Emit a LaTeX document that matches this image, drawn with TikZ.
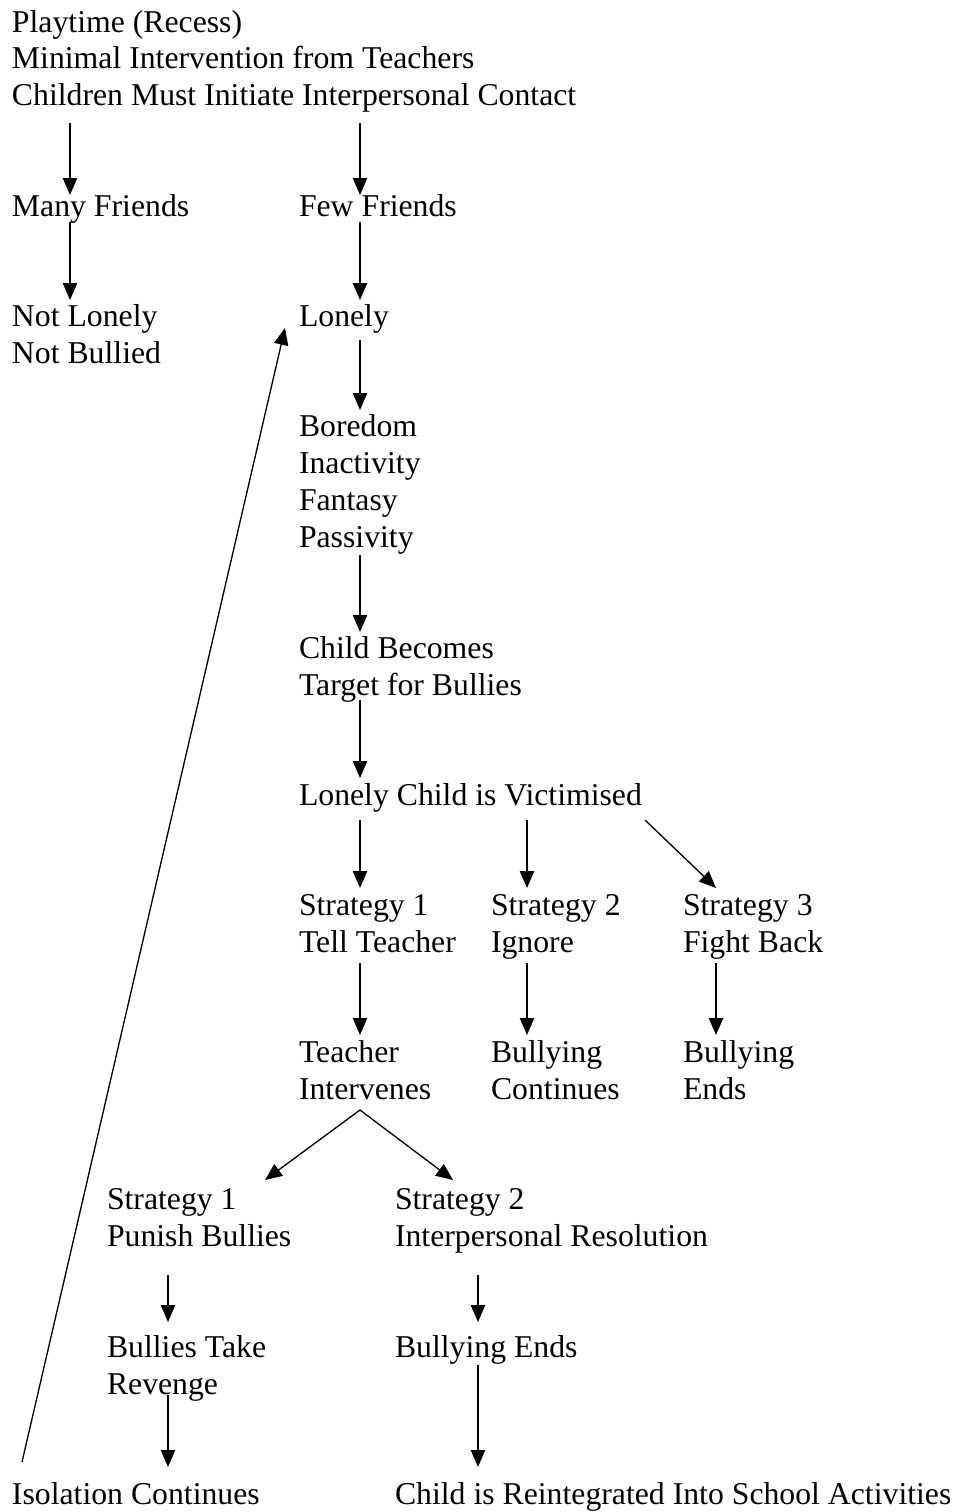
\documentclass[tikz,border=0pt]{standalone}
\usepackage{fontspec}
\setmainfont{Liberation Serif}
\usetikzlibrary{arrows.meta,calc}
\tikzset{
  lbl/.style={anchor=base west, inner sep=0pt, outer sep=0pt, align=left, font=\fontsize{12}{13.87}\selectfont},
  arr/.style={line width=0.5pt, -{Triangle[length=6.4pt,width=5.4pt]}}
}
\begin{document}
\begin{tikzpicture}[x=0.378pt,y=-0.378pt]
\useasboundingbox (0,0) rectangle (958,1512);
% positions are the baselines of the last lines
\node[lbl] (play) at (12,105.4) {Playtime (Recess)\\Minimal Intervention from Teachers\\Children Must Initiate Interpersonal Contact};
\node[lbl] (many) at (12,216) {Many Friends};
\node[lbl] (few) at (299,216) {Few Friends};
\node[lbl] (notlonely) at (12,363) {Not Lonely\\Not Bullied};
\node[lbl] (lonely) at (299,326) {Lonely};
\node[lbl] (boredom) at (299,547) {Boredom\\Inactivity\\Fantasy\\Passivity};
\node[lbl] (child) at (299,695) {Child Becomes\\Target for Bullies};
\node[lbl] (victim) at (299,805) {Lonely Child is Victimised};
\node[lbl] (s1) at (299,952) {Strategy 1\\Tell Teacher};
\node[lbl] (s2) at (491,952) {Strategy 2\\Ignore};
\node[lbl] (s3) at (683,952) {Strategy 3\\Fight Back};
\node[lbl] (teacher) at (299,1099) {Teacher\\Intervenes};
\node[lbl] (bcont) at (491,1099) {Bullying\\Continues};
\node[lbl] (bends) at (683,1099) {Bullying\\Ends};
\node[lbl] (ps1) at (107,1246) {Strategy 1\\Punish Bullies};
\node[lbl] (ps2) at (395,1246) {Strategy 2\\Interpersonal Resolution};
\node[lbl] (revenge) at (107,1394) {Bullies Take\\Revenge};
\node[lbl] (bends2) at (395,1357) {Bullying Ends};
\node[lbl] (iso) at (12,1504) {Isolation Continues};
\node[lbl] (reint) at (395,1504) {Child is Reintegrated Into School Activities};

\draw[arr] ($(play.base west)+(58,17.6)$) -- ($(many.base west)+(58,-21)$);
\draw[arr] ($(play.base west)+(348,17.6)$) -- ($(few.base west)+(61,-21)$);
\draw[arr] ($(many.base west)+(58,6)$) -- ($(notlonely.base west)+(58,-63)$);
\draw[arr] ($(few.base west)+(61,6)$) -- ($(lonely.base west)+(61,-26)$);
\draw[arr] ($(lonely.base west)+(61,14)$) -- ($(boredom.base west)+(61,-137)$);
\draw[arr] ($(boredom.base west)+(61,8)$) -- ($(child.base west)+(61,-63)$);
\draw[arr] ($(child.base west)+(61,5)$) -- ($(victim.base west)+(61,-27)$);
\draw[arr] ($(victim.base west)+(61,15)$) -- ($(s1.base west)+(61,-64)$);
\draw[arr] ($(victim.base west)+(228,15)$) -- ($(s2.base west)+(36,-64)$);
\draw[arr] ($(victim.base west)+(346,15)$) -- ($(s3.base west)+(33,-64)$);
\draw[arr] ($(s1.base west)+(61,11)$) -- ($(teacher.base west)+(61,-64)$);
\draw[arr] ($(s2.base west)+(36,11)$) -- ($(bcont.base west)+(36,-64)$);
\draw[arr] ($(s3.base west)+(33,11)$) -- ($(bends.base west)+(33,-64)$);
\draw[arr] ($(teacher.base west)+(61,11)$) -- ($(ps1.base west)+(158,-66)$);
\draw[arr] ($(teacher.base west)+(61,11)$) -- ($(ps2.base west)+(58,-66)$);
\draw[arr] ($(ps1.base west)+(61,29)$) -- ($(revenge.base west)+(61,-72)$);
\draw[arr] ($(ps2.base west)+(83,29)$) -- ($(bends2.base west)+(83,-35)$);
\draw[arr] ($(revenge.base west)+(61,1)$) -- ($(iso.base west)+(156,-37)$);
\draw[arr] ($(bends2.base west)+(83,8)$) -- ($(reint.base west)+(83,-37)$);
\draw[arr] ($(iso.base west)+(10,-42)$) -- ($(lonely.base west)+(-14,2)$);
\end{tikzpicture}
\end{document}
